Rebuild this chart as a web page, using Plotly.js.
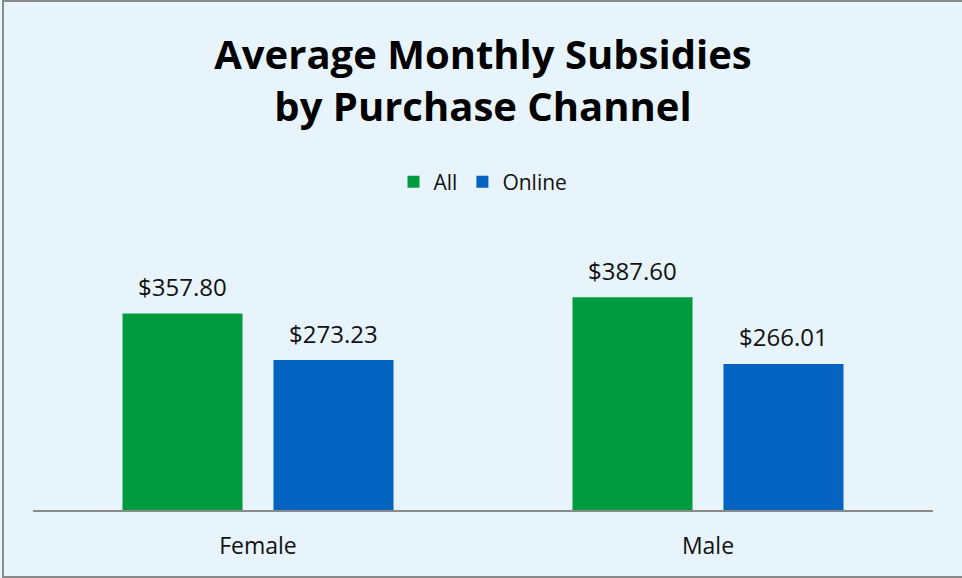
<!DOCTYPE html>
<html>
<head>
<meta charset="utf-8">
<script src="https://cdn.plot.ly/plotly-3.0.1.min.js"></script>
<style>
  html, body { margin: 0; padding: 0; background: #e8f4fb; }
  #wrap { position: relative; width: 962px; height: 578px; overflow: hidden; }
  #chart { position: absolute; left: 0; top: 0; width: 962px; height: 578px; }
  #frame { position: absolute; left: 2px; top: 0px; width: 980px; height: 574px;
           border-left: 2px solid #8a8a8a; border-top: 2px solid #8a8a8a; border-bottom: 2px solid #8a8a8a;
           pointer-events: none; }
</style>
</head>
<body>
<div id="wrap">
  <div id="chart"></div>
  <div id="frame"></div>
</div>
<script>
const categories = ["Female", "Male"];
const seriesNames = ["All", "Online"];
const allValues = [357.80, 387.60];
const onlineValues = [273.23, 266.01];
const seriesColors = ["#009b3e", "#0563c1"];

const fmt = v => "$" + v.toFixed(2);
const FONT = "Open Sans, sans-serif";

const traces = [allValues, onlineValues].map((vals, i) => ({
  type: "bar",
  name: seriesNames[i],
  x: categories,
  y: vals,
  marker: { color: seriesColors[i], line: { width: 0 } },
  hoverinfo: "skip"
}));

const slotHalf = 75.5;
const annotations = [];
[allValues, onlineValues].forEach((vals, i) => {
  vals.forEach((v, j) => {
    annotations.push({
      x: categories[j], y: v, xref: "x", yref: "y",
      xshift: (i === 0 ? -1 : 1) * slotHalf,
      yshift: 27,
      text: fmt(v), showarrow: false,
      font: { family: FONT, size: 24, color: "#111" }
    });
  });
});

const layout = {
  width: 962, height: 578,
  paper_bgcolor: "#e8f4fb", plot_bgcolor: "#e8f4fb",
  margin: { l: 33, r: 29, t: 263, b: 68 },
  barmode: "group", bargap: 0.329, bargroupgap: 0.205,
  title: {
    text: "<b>Average Monthly Subsidies<br>by Purchase Channel</b>",
    x: 0.5, xref: "paper", y: 1 - 69/578, yref: "container", yanchor: "top",
    font: { family: FONT, size: 40, color: "#000" }
  },
  showlegend: true,
  legend: {
    orientation: "h", x: 0.5, xanchor: "center", y: 1.328, yanchor: "middle",
    font: { family: FONT, size: 21, color: "#111" }, bgcolor: "rgba(0,0,0,0)"
  },
  xaxis: {
    showline: true, linecolor: "#8a8a8a", linewidth: 2, ticks: "",
    showgrid: false, zeroline: false, ticklabelstandoff: 14,
    tickfont: { family: FONT, size: 23, color: "#111" }, fixedrange: true
  },
  yaxis: {
    range: [0, 450], visible: false, showgrid: false, zeroline: false, fixedrange: true
  },
  annotations: annotations
};

Plotly.newPlot("chart", traces, layout, { staticPlot: true, displayModeBar: false });
</script>
</body>
</html>
